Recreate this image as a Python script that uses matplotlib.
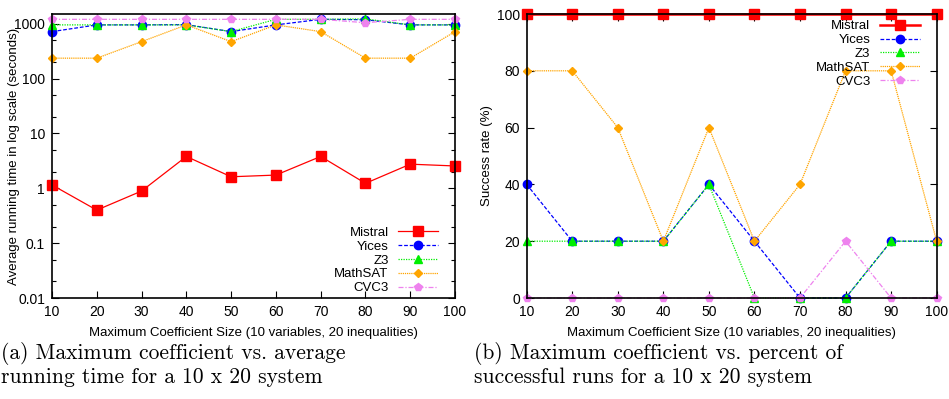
import matplotlib.pyplot as plt
from matplotlib.ticker import LogLocator, NullFormatter

plt.rcParams['font.family'] = ['Liberation Sans', 'DejaVu Sans']

sizes = [10, 20, 30, 40, 50, 60, 70, 80, 90, 100]
solvers = ['Mistral', 'Yices', 'Z3', 'MathSAT', 'CVC3']

# average running time (seconds)
time_mistral = [1.15, 0.40, 0.89, 3.8, 1.62, 1.74, 3.8, 1.23, 2.75, 2.55]
time_yices = [716, 950, 950, 960, 716, 950, 1200, 1180, 950, 950]
time_z3 = [950, 950, 950, 950, 716, 1200, 1200, 1220, 950, 950]
time_mathsat = [235, 235, 470, 950, 470, 950, 716, 235, 235, 716]
time_cvc3 = [1200, 1200, 1200, 1200, 1200, 1200, 1200, 1040, 1200, 1200]

# success rate (%)
rate_mistral = [100, 100, 100, 100, 100, 100, 100, 100, 100, 100]
rate_yices = [40, 20, 20, 20, 40, 20, 0, 0, 20, 20]
rate_z3 = [20, 20, 20, 20, 40, 0, 0, 0, 20, 20]
rate_mathsat = [80, 80, 60, 20, 60, 20, 40, 80, 80, 20]
rate_cvc3 = [0, 0, 0, 0, 0, 0, 0, 20, 0, 0]

styles = [
    dict(color='#ff0000', ls='-', marker='s', ms=6.5),
    dict(color='#0000ff', ls=(0, (3, 1.5)), marker='o', ms=6),
    dict(color='#00ee00', ls=(0, (1, 1)), marker='^', ms=5.5),
    dict(color='#ffa500', ls=(0, (1, 0.7)), marker='D', ms=4.5),
    dict(color='#ee82ee', ls=(0, (4, 1.5, 1, 1.5)), marker='p', ms=6),
]

fig = plt.figure(figsize=(9.49, 3.99), dpi=100)
ax1 = fig.add_axes([0.0548, 0.2531, 0.4247, 0.7118])
ax2 = fig.add_axes([0.555, 0.2531, 0.432, 0.7118])

times = [time_mistral, time_yices, time_z3, time_mathsat, time_cvc3]
rates = [rate_mistral, rate_yices, rate_z3, rate_mathsat, rate_cvc3]

for name, vals, st in zip(solvers, times, styles):
    ax1.plot(sizes, vals, label=name, lw=0.9, clip_on=False, **st)
for i, (name, vals, st) in enumerate(zip(solvers, rates, styles)):
    ax2.plot(sizes, vals, label=name, lw=1.8 if i == 0 else 0.9, clip_on=False, **st)

ax1.set_yscale('log')
ax1.set_ylim(0.01, 1500)
ax1.set_yticks([0.01, 0.1, 1, 10, 100, 1000])
ax1.set_yticklabels(['0.01', '0.1', '1', '10', '100', '1000'])
ax1.yaxis.set_minor_locator(LogLocator(base=10, subs=(2, 5)))
ax1.yaxis.set_minor_formatter(NullFormatter())
ax1.set_ylabel('Average running time in log scale (seconds)', fontsize=9.5)
ax1.yaxis.set_label_coords(-0.079, 0.5)

ax2.set_ylim(0, 100)
ax2.set_yticks([0, 20, 40, 60, 80, 100])
ax2.set_ylabel('Success rate (%)', fontsize=9.5)
ax2.yaxis.set_label_coords(-0.082, 0.5)

for ax in (ax1, ax2):
    ax.set_xlim(10, 100)
    ax.set_xticks(sizes)
    ax.set_xlabel('Maximum Coefficient Size (10 variables, 20 inequalities)', fontsize=9.5, labelpad=6)
    ax.tick_params(which='both', direction='in', top=True, right=True, labelsize=10, width=0.8)
    ax.tick_params(which='major', length=5, pad=5)
    ax.tick_params(which='minor', length=3)
    for sp in ax.spines.values():
        sp.set_linewidth(1.2)

leg = dict(frameon=False, markerfirst=False, fontsize=9.5, handlelength=3.0,
           labelspacing=0.12, borderaxespad=0, handletextpad=0.75)
ax1.legend(loc='lower right', bbox_to_anchor=(0.971, -0.005), **leg)
ax2.legend(loc='upper right', bbox_to_anchor=(0.972, 0.997), **leg)

cap = dict(family='cmr10', fontsize=15.5, ha='left', va='top', linespacing=1.15)
fig.text(0.001, 0.143, '(a) Maximum coefficient vs. average\nrunning time for a 10 x 20 system', **cap)
fig.text(0.4995, 0.143, '(b) Maximum coefficient vs. percent of\nsuccessful runs for a 10 x 20 system', **cap)

fig.savefig('out.png', dpi=100)
